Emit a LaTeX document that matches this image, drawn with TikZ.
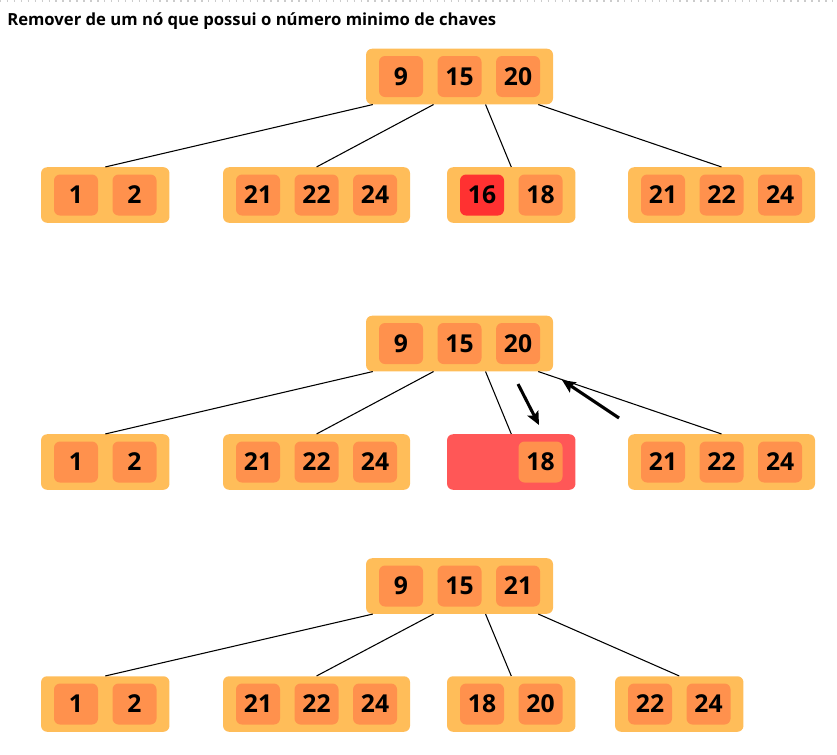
\documentclass[tikz,border=0pt]{standalone}
\usepackage{fontspec}
\setmainfont{Open Sans}
\usetikzlibrary{positioning,fit,backgrounds,calc,arrows.meta}
\definecolor{boxorange}{HTML}{FFBD59}
\definecolor{keyorange}{HTML}{FF914D}
\definecolor{keyred}{HTML}{FF3131}
\definecolor{boxred}{HTML}{FF5757}

\begin{document}
\begin{tikzpicture}[
    x=0.75pt, y=-0.75pt,
    node distance=0pt and 10.5pt,
    key/.style={fill=keyorange, rounded corners=4.5pt, minimum width=33pt, minimum height=30.75pt, inner sep=0pt, font=\bfseries\fontsize{18.5}{18.5}\selectfont},
    bnode/.style={fill=boxorange, rounded corners=4.5pt, inner xsep=9.5pt, inner ysep=5.25pt},
    edge/.style={line width=0.8pt},
    move/.style={-{Stealth[length=10pt, width=9pt, inset=2pt]}, line width=2.3pt}
]
\useasboundingbox (0,0) rectangle (837,754);
\draw[black!20, line width=1.1pt, dash pattern=on 1.1pt off 4.1pt] (0,1) -- (837,1);
\node[anchor=base west, inner sep=0pt, font=\bfseries\fontsize{12.5}{12.5}\selectfont] (title) at (7,25) {Remover de um nó que possui o número minimo de chaves};

\node[key] (r1k9) at (401,76.5) {9};
\node[key, right=of r1k9] (r1k15) {15};
\node[key, right=of r1k15] (r1k20) {20};
\node[key] (a1k1) at (76,195) {1};
\node[key, right=of a1k1] (a1k2) {2};
\node[key] (b1k21) at (258,195) {21};
\node[key, right=of b1k21] (b1k22) {22};
\node[key, right=of b1k22] (b1k24) {24};
\node[key, fill=keyred] (c1k16) at (482,195) {16};
\node[key, right=of c1k16] (c1k18) {18};
\node[key] (d1k21) at (663,195) {21};
\node[key, right=of d1k21] (d1k22) {22};
\node[key, right=of d1k22] (d1k24) {24};

\node[key] (r2k9) at (401,343.5) {9};
\node[key, right=of r2k9] (r2k15) {15};
\node[key, right=of r2k15] (r2k20) {20};
\node[key] (a2k1) at (76,462) {1};
\node[key, right=of a2k1] (a2k2) {2};
\node[key] (b2k21) at (258,462) {21};
\node[key, right=of b2k21] (b2k22) {22};
\node[key, right=of b2k22] (b2k24) {24};
\node[key, fill=none] (c2gap) at (482,462) {};
\node[key, right=of c2gap] (c2k18) {18};
\node[key] (d2k21) at (663,462) {21};
\node[key, right=of d2k21] (d2k22) {22};
\node[key, right=of d2k22] (d2k24) {24};

\node[key] (r3k9) at (401,586) {9};
\node[key, right=of r3k9] (r3k15) {15};
\node[key, right=of r3k15] (r3k21) {21};
\node[key] (a3k1) at (76,704) {1};
\node[key, right=of a3k1] (a3k2) {2};
\node[key] (b3k21) at (258,704) {21};
\node[key, right=of b3k21] (b3k22) {22};
\node[key, right=of b3k22] (b3k24) {24};
\node[key] (c3k18) at (482,704) {18};
\node[key, right=of c3k18] (c3k20) {20};
\node[key] (d3k22) at (650,704) {22};
\node[key, right=of d3k22] (d3k24) {24};

\begin{scope}[on background layer]
\node[bnode, fit=(r1k9)(r1k20)] (root1) {};
\node[bnode, fit=(a1k1)(a1k2)] (a1) {};
\node[bnode, fit=(b1k21)(b1k24)] (b1) {};
\node[bnode, fit=(c1k16)(c1k18)] (c1) {};
\node[bnode, fit=(d1k21)(d1k24)] (d1) {};
\node[bnode, fit=(r2k9)(r2k20)] (root2) {};
\node[bnode, fit=(a2k1)(a2k2)] (a2) {};
\node[bnode, fit=(b2k21)(b2k24)] (b2) {};
\node[bnode, fill=boxred, fit=(c2gap)(c2k18)] (c2) {};
\node[bnode, fit=(d2k21)(d2k24)] (d2) {};
\node[bnode, fit=(r3k9)(r3k21)] (root3) {};
\node[bnode, fit=(a3k1)(a3k2)] (a3) {};
\node[bnode, fit=(b3k21)(b3k24)] (b3) {};
\node[bnode, fit=(c3k18)(c3k20)] (c3) {};
\node[bnode, fit=(d3k22)(d3k24)] (d3) {};
\end{scope}

\draw[edge] ($(root1.south west)+(7,0)$) -- (a1.north);
\draw[edge] ($(root1.south)+(-26,0)$) -- (b1.north);
\draw[edge] ($(root1.south)+(26,0)$) -- (c1.north);
\draw[edge] ($(root1.south east)+(-15,0)$) -- (d1.north);

\draw[edge] ($(root2.south west)+(7,0)$) -- (a2.north);
\draw[edge] ($(root2.south)+(-26,0)$) -- (b2.north);
\draw[edge] ($(root2.south)+(26,0)$) -- (c2.north);
\draw[edge] ($(root2.south east)+(-15,0)$) -- (d2.north);
\coordinate (down0) at (518,384);
\coordinate (down1) at (539,425);
\coordinate (up0) at (619,418);
\coordinate (up1) at (562,380);
\draw[move] (down0) -- (down1);
\draw[move] (up0) -- (up1);

\draw[edge] ($(root3.south west)+(7,0)$) -- (a3.north);
\draw[edge] ($(root3.south)+(-26,0)$) -- (b3.north);
\draw[edge] ($(root3.south)+(26,0)$) -- (c3.north);
\draw[edge] ($(root3.south east)+(-15,0)$) -- (d3.north);
\end{tikzpicture}
\end{document}
